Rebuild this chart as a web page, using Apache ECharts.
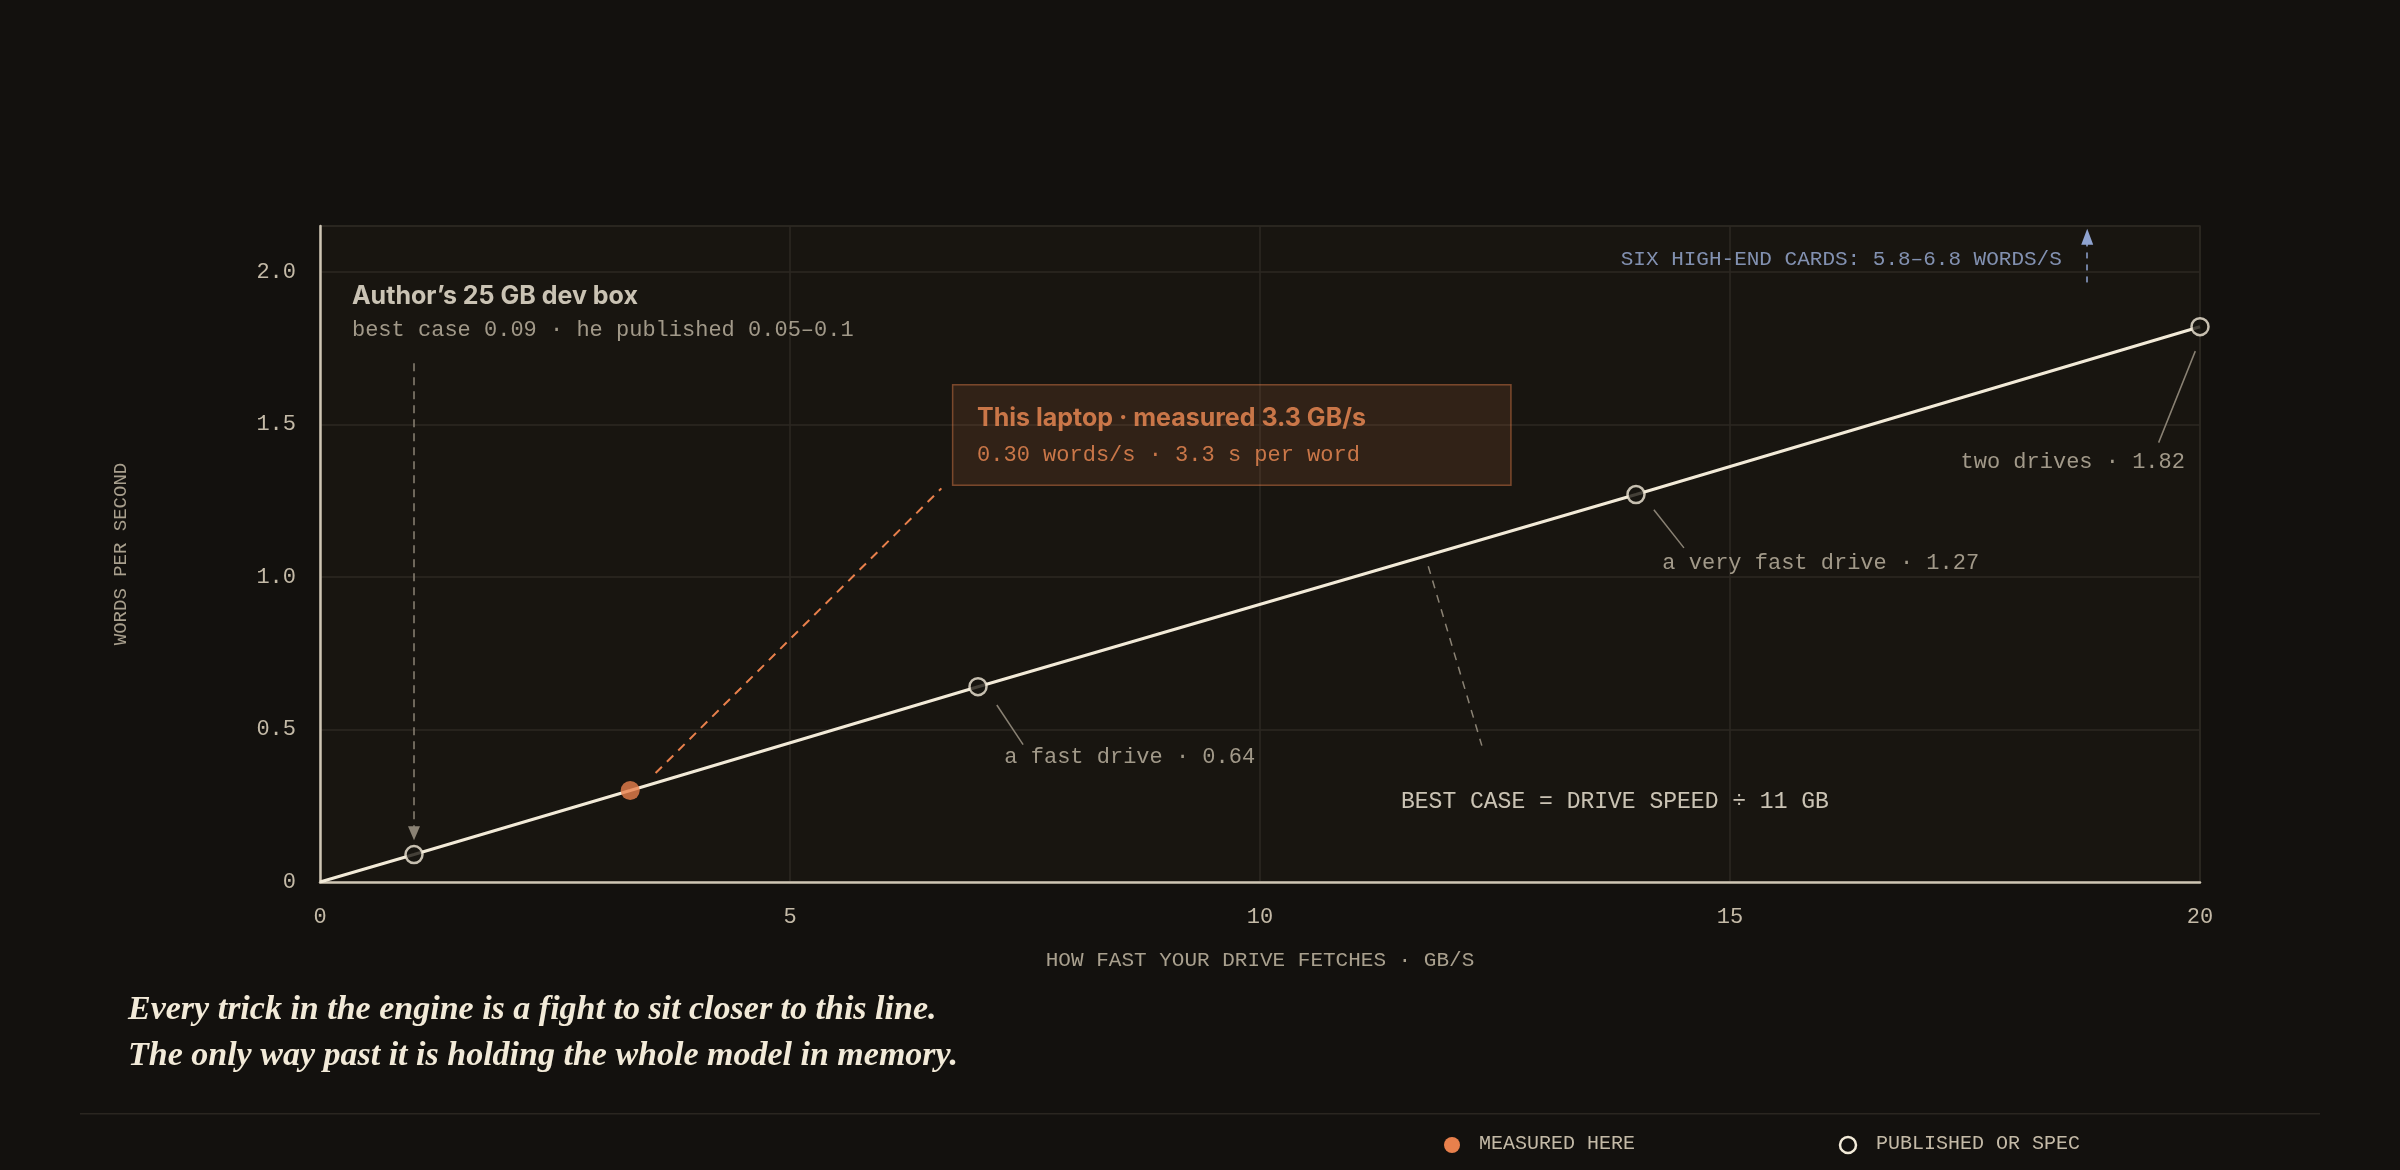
<!DOCTYPE html>
<html><head><meta charset="utf-8">
<script src="https://cdn.jsdelivr.net/npm/echarts@6/dist/echarts.min.js"></script>
<style>html,body{margin:0;padding:0;background:#13110e}#c{width:2400px;height:1170px}</style>
</head><body><div id="c"></div>
<script>
const lineX = [0, 1, 3.3, 7, 14, 20];
const lineY = [0, 0.09, 0.30, 0.64, 1.27, 1.82];
const published = [[1, 0.09], [7, 0.64], [14, 1.27], [20, 1.82]];
const measured = [[3.3, 0.30]];
const xTicks = [0, 5, 10, 15, 20];
const yTicks = [0, 0.5, 1.0, 1.5, 2.0];

const MONO = '"Liberation Mono", "DejaVu Sans Mono", monospace';
const SANS = 'Inter, "Noto Sans", sans-serif';
const chart = echarts.init(document.getElementById('c'));

function txt(x, y, text, o) {
  return { value: [x, y], label: Object.assign({ show: true, formatter: text, position: [0, 0], align: 'left', verticalAlign: 'middle', fontFamily: MONO, fontSize: 22, color: '#c4baa7' }, o || {}) };
}

chart.setOption({
  backgroundColor: '#13110e',
  animation: false,
  grid: { left: 320, right: 200, top: 226, bottom: 288, show: true, backgroundColor: '#181510', borderColor: '#2a2620', borderWidth: 1.5 },
  xAxis: {
    type: 'value', min: 0, max: 20, interval: 5,
    name: 'HOW FAST YOUR DRIVE FETCHES · GB/S', nameLocation: 'middle', nameGap: 68,
    nameTextStyle: { fontFamily: MONO, fontSize: 21, color: '#a9a08e', letterSpacing: 1 },
    axisLine: { lineStyle: { color: '#cfc6b4', width: 2.5 } }, axisTick: { show: false },
    axisLabel: { fontFamily: MONO, fontSize: 22, color: '#c4baa7', margin: 24, formatter: v => xTicks.includes(v) ? String(v) : '' },
    splitLine: { lineStyle: { color: '#2c2822', width: 1.5 } }
  },
  yAxis: {
    type: 'value', min: 0, max: 2.15, interval: 0.5,
    name: 'WORDS PER SECOND', nameLocation: 'middle', nameGap: 190, nameRotate: 90,
    nameTextStyle: { fontFamily: MONO, fontSize: 19, color: '#a9a08e', letterSpacing: 4 },
    axisLine: { show: true, lineStyle: { color: '#cfc6b4', width: 2.5 } }, axisTick: { show: false },
    axisLabel: { fontFamily: MONO, fontSize: 22, color: '#c4baa7', margin: 24, formatter: v => { const t = yTicks.find(k => Math.abs(k - v) < 1e-6); return t === undefined ? '' : (t === 0 ? '0' : t.toFixed(1)); } },
    splitLine: { lineStyle: { color: '#2c2822', width: 1.5 } }
  },
  series: [
    { type: 'line', data: lineX.map((x, i) => [x, lineY[i]]), symbol: 'none', lineStyle: { color: '#f2ead8', width: 3 }, z: 3,
      markArea: { silent: true, itemStyle: { color: 'rgba(232,128,76,0.12)', borderColor: 'rgba(232,128,76,0.45)', borderWidth: 1.5, borderRadius: 8 },
        data: [[{ coord: [6.73, 1.63] }, { coord: [12.67, 1.30] }]] },
      markLine: { silent: true, symbol: 'none', label: { show: false },
        data: [
          [{ coord: [1, 1.70], lineStyle: { color: '#8a8274', type: [8, 6], width: 1.5 } }, { coord: [1, 0.16], symbol: 'triangle', symbolSize: [12, 14] }],
          [{ coord: [3.57, 0.357], lineStyle: { color: '#e8804c', type: [9, 7], width: 2 } }, { coord: [6.61, 1.29] }],
          [{ coord: [7.2, 0.58], lineStyle: { color: '#8a8274', type: 'solid', width: 1.5 } }, { coord: [7.48, 0.45] }],
          [{ coord: [14.19, 1.22], lineStyle: { color: '#8a8274', type: 'solid', width: 1.5 } }, { coord: [14.51, 1.095] }],
          [{ coord: [19.95, 1.74], lineStyle: { color: '#8a8274', type: 'solid', width: 1.5 } }, { coord: [19.56, 1.44] }],
          [{ coord: [11.79, 1.035], lineStyle: { color: '#8a8274', type: [8, 7], width: 1.5 } }, { coord: [12.36, 0.447] }],
          [{ coord: [18.8, 1.965], lineStyle: { color: '#8fa3d0', type: [6, 6], width: 1.5 } }, { coord: [18.8, 2.115], symbol: 'triangle', symbolSize: [12, 16], itemStyle: { color: '#b8ae9c' } }]
        ] } },
    { type: 'scatter', data: published, symbol: 'circle', symbolSize: 17, itemStyle: { color: '#181510', borderColor: '#f2ead8', borderWidth: 2.5 }, z: 5 },
    { type: 'scatter', data: measured, symbol: 'circle', symbolSize: 19, itemStyle: { color: '#e8804c' }, z: 5 },
    { type: 'scatter', symbolSize: 0, silent: true, z: 6, data: [
      txt(0.34, 1.92, "Author’s 25 GB dev box", { fontFamily: SANS, fontWeight: 'bold', fontSize: 25, color: '#f7efdd' }),
      txt(0.34, 1.81, 'best case 0.09 · he published 0.05–0.1'),
      txt(6.99, 1.52, 'This laptop · measured 3.3 GB/s', { fontFamily: SANS, fontWeight: 'bold', fontSize: 25, color: '#f08c55' }),
      txt(6.99, 1.40, '0.30 words/s · 3.3 s per word', { color: '#f08c55' }),
      txt(7.28, 0.41, 'a fast drive · 0.64'),
      txt(14.28, 1.045, 'a very fast drive · 1.27'),
      txt(19.84, 1.375, 'two drives · 1.82', { align: 'right' }),
      txt(11.5, 0.262, 'BEST CASE = DRIVE SPEED ÷ 11 GB', { color: '#f7efdd', fontSize: 23, letterSpacing: 1 }),
      txt(18.53, 2.04, 'SIX HIGH-END CARDS: 5.8–6.8 WORDS/S', { align: 'right', color: '#9db0da', fontSize: 21 })
    ] }
  ],
  graphic: [
    { type: 'text', left: 128, top: 993, style: { text: 'Every trick in the engine is a fight to sit closer to this line.', font: 'italic bold 34px "Liberation Serif", "DejaVu Serif", serif', fill: '#f2ead8' } },
    { type: 'text', left: 128, top: 1039, style: { text: 'The only way past it is holding the whole model in memory.', font: 'italic bold 34px "Liberation Serif", "DejaVu Serif", serif', fill: '#f2ead8' } },
    { type: 'rect', shape: { x: 80, y: 1113, width: 2240, height: 1.5 }, style: { fill: '#2a2620' } },
    { type: 'circle', shape: { cx: 1452, cy: 1145, r: 8 }, style: { fill: '#e8804c' } },
    { type: 'text', left: 1479, top: 1134, style: { text: 'MEASURED HERE', font: '20px "Liberation Mono", monospace', fill: '#c4baa7' } },
    { type: 'circle', shape: { cx: 1848, cy: 1145, r: 8 }, style: { fill: '#13110e', stroke: '#f2ead8', lineWidth: 2.5 } },
    { type: 'text', left: 1876, top: 1134, style: { text: 'PUBLISHED OR SPEC', font: '20px "Liberation Mono", monospace', fill: '#c4baa7' } }
  ]
});
</script></body></html>
